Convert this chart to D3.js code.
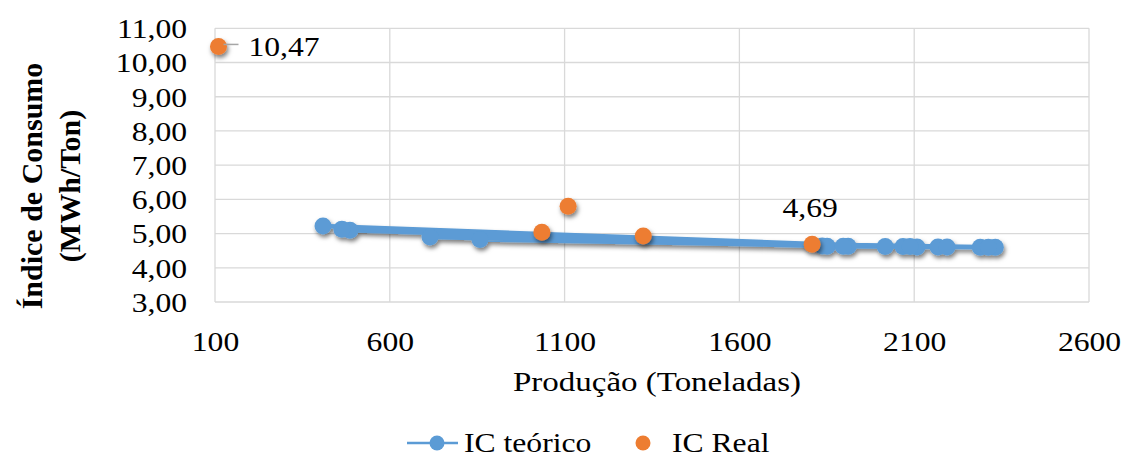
<!DOCTYPE html>
<html>
<head>
<meta charset="utf-8">
<script src="https://cdn.jsdelivr.net/npm/d3@7/dist/d3.min.js"></script>
<style>
  html, body { margin: 0; padding: 0; background: #ffffff; }
  svg { display: block; }
  text { font-family: "Liberation Serif", "Times New Roman", serif; fill: #000; }
</style>
</head>
<body>
<svg id="chart" width="1124" height="459"></svg>
<script>
// Produção (t) and consumption index, in the order the series was recorded
const teoricoProducao = [486, 1911, 409, 2017, 463, 1837, 715, 2108, 858, 2332, 1851, 1897, 2068, 2088, 2168, 2194, 2289, 2312];
const teoricoIC       = [5.10, 4.63, 5.22, 4.62, 5.13, 4.64, 4.90, 4.61, 4.83, 4.60, 4.63, 4.63, 4.62, 4.62, 4.61, 4.61, 4.60, 4.60];

const realProducao = [110, 1035, 1110, 1325, 1808];
const realIC       = [10.47, 5.04, 5.80, 4.93, 4.69];
const realLabels   = ["10,47", null, null, null, "4,69"];

const xTicks = [100, 600, 1100, 1600, 2100, 2600];
const yTicks = [3, 4, 5, 6, 7, 8, 9, 10, 11];

const seriesNames = ["IC teórico", "IC Real"];
const xTitle = "Produção (Toneladas)";
const yTitleLines = ["Índice de Consumo", "(MWh/Ton)"];

const BLUE = "#5B9BD5", ORANGE = "#ED7D31", GRID = "#d9d9d9";
const FS = 27.5, SX = 1.15;   // font size and horizontal stretch of the text

const svg = d3.select("#chart");

const defs = svg.append("defs");
defs.append("filter").attr("id", "shadow")
  .attr("x", "-50%").attr("y", "-50%").attr("width", "200%").attr("height", "200%")
  .append("feDropShadow")
  .attr("dx", 1.5).attr("dy", 3).attr("stdDeviation", 2)
  .attr("flood-color", "#000").attr("flood-opacity", 0.5);

const x = d3.scaleLinear().domain([100, 2600]).range([215, 1089]);
const y = d3.scaleLinear().domain([3, 11]).range([302, 28.3]);

const fmt = v => d3.format(".2f")(v).replace(".", ",");

// horizontally stretched text helper
function label(g, str, px, py, anchor, opts = {}) {
  return g.append("text")
    .attr("transform", `translate(${px},${py}) scale(${opts.sx ?? SX},1)`)
    .attr("text-anchor", anchor)
    .attr("font-size", opts.size ?? FS)
    .attr("font-weight", opts.weight ?? "normal")
    .text(str);
}

// gridlines
const grid = svg.append("g");
grid.selectAll("line.h").data(yTicks).join("line")
  .attr("x1", x.range()[0]).attr("x2", x.range()[1])
  .attr("y1", d => y(d)).attr("y2", d => y(d))
  .attr("stroke", GRID).attr("stroke-width", 1.3);
grid.selectAll("line.v").data(xTicks).join("line")
  .attr("x1", d => x(d)).attr("x2", d => x(d))
  .attr("y1", y.range()[0]).attr("y2", y.range()[1])
  .attr("stroke", GRID).attr("stroke-width", 1.3);

// axes (labels only, no domain line)
const yAxis = d3.axisLeft(y).tickValues(yTicks).tickFormat(fmt).tickSize(0).tickPadding(0);
const yg = svg.append("g").attr("transform", "translate(187,0)").call(yAxis);
yg.select(".domain").remove();
yg.selectAll(".tick text")
  .attr("font-family", "Liberation Serif").attr("font-size", FS).attr("fill", "#000")
  .attr("x", 0).attr("dy", "0.34em")
  .attr("transform", `scale(${SX},1)`);

const xAxis = d3.axisBottom(x).tickValues(xTicks).tickFormat(d3.format("d")).tickSize(0).tickPadding(0);
const xg = svg.append("g").attr("transform", "translate(0,351)").call(xAxis);
xg.select(".domain").remove();
xg.selectAll(".tick text")
  .attr("font-family", "Liberation Serif").attr("font-size", FS).attr("fill", "#000")
  .attr("y", 0).attr("dy", 0)
  .attr("transform", `scale(${SX},1)`);

// axis titles
label(svg, xTitle, 657, 391, "middle", { sx: 1.2 });
const yt = svg.append("g");
yTitleLines.forEach((t, i) => {
  yt.append("text")
    .attr("transform", `translate(${42 + i * 38},186) rotate(-90)`)
    .attr("text-anchor", "middle")
    .attr("font-size", 30).attr("font-weight", "bold")
    .text(t);
});

// IC teórico: line + markers
const teorico = teoricoProducao.map((p, i) => ({ p, v: teoricoIC[i] }));
const sBlue = svg.append("g").attr("filter", "url(#shadow)");
sBlue.append("path")
  .datum(teorico)
  .attr("fill", "none").attr("stroke", BLUE).attr("stroke-width", 4.5)
  .attr("stroke-linejoin", "round")
  .attr("d", d3.line().x(d => x(d.p)).y(d => y(d.v)));
sBlue.selectAll("circle").data(teorico).join("circle")
  .attr("cx", d => x(d.p)).attr("cy", d => y(d.v)).attr("r", 8.5)
  .attr("fill", BLUE);

// IC Real: markers only
const real = realProducao.map((p, i) => ({ p, v: realIC[i], lab: realLabels[i] }));
const sOrange = svg.append("g").attr("filter", "url(#shadow)");
sOrange.selectAll("circle").data(real).join("circle")
  .attr("cx", d => x(d.p)).attr("cy", d => y(d.v)).attr("r", 8.5)
  .attr("fill", ORANGE);

// data labels
const first = real[0];
svg.append("line")
  .attr("x1", x(first.p) + 5).attr("x2", x(first.p) + 20)
  .attr("y1", y(first.v) - 2).attr("y2", y(first.v) - 2)
  .attr("stroke", "#a6a6a6").attr("stroke-width", 1.5);
label(svg, first.lab, x(first.p) + 30, y(first.v) + 10, "start");
const last = real[real.length - 1];
label(svg, last.lab, x(last.p) - 2, y(last.v) - 27, "middle");

// legend
const lg = svg.append("g");
lg.append("line").attr("x1", 407).attr("x2", 458).attr("y1", 443).attr("y2", 443)
  .attr("stroke", BLUE).attr("stroke-width", 2.5);
lg.append("circle").attr("cx", 437).attr("cy", 443).attr("r", 7.5).attr("fill", BLUE);
label(lg, seriesNames[0], 464, 452, "start");
lg.append("circle").attr("cx", 643).attr("cy", 443).attr("r", 7.5).attr("fill", ORANGE);
label(lg, seriesNames[1], 672, 452, "start");
</script>
</body>
</html>
